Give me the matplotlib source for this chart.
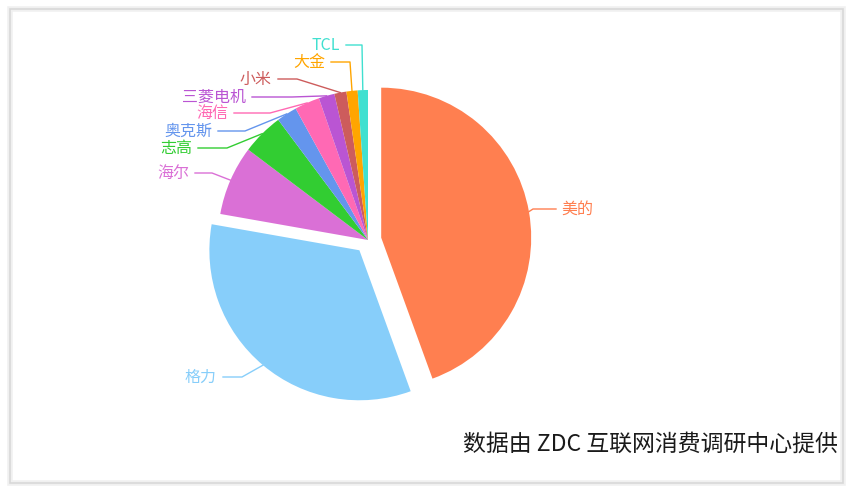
import matplotlib.pyplot as plt
from matplotlib.patches import Rectangle
import numpy as np

plt.rcParams['font.family'] = ['Noto Sans CJK SC', 'DejaVu Sans']

# data (market share, %)
brands = ["美的", "格力", "海尔", "志高", "奥克斯", "海信", "三菱电机", "小米", "大金", "TCL"]
shares = [44.4, 33.3, 7.5, 4.5, 2.2, 2.7, 1.7, 1.3, 1.2, 1.1]
colors = ["#ff7f50", "#87cefa", "#da70d6", "#32cd32", "#6495ed",
          "#ff69b4", "#ba55d3", "#cd5c5c", "#ffa500", "#40e0d0"]
selected = ["美的", "格力"]
source = "数据由 ZDC 互联网消费调研中心提供"

# label layout in pixels (text x, text y, elbow x), y from the top
label_layout = {
    "美的": (561, 209, 533),
    "格力": (217, 377, 242),
    "海尔": (189, 173, 212),
    "志高": (192, 148, 227),
    "奥克斯": (212, 131, 245),
    "海信": (228, 113, 270),
    "三菱电机": (246, 97, 292),
    "小米": (272, 79, 297),
    "大金": (325, 62, 350),
    "TCL": (340, 45, 362),
}

W, H = 853, 492
fig = plt.figure(figsize=(W / 100, H / 100), dpi=100)
ax = fig.add_axes([0, 0, 1, 1])

cx, cy = 368, H - 240
R = 150
explode = [13.4 if b in selected else 0 for b in brands]
wedges, _ = ax.pie(shares, colors=colors, startangle=90, counterclock=False,
                   radius=R, center=(cx, cy), explode=explode,
                   wedgeprops=dict(linewidth=0))

for w, name, col in zip(wedges, brands, colors):
    mid = np.deg2rad((w.theta1 + w.theta2) / 2)
    ax_, ay_ = w.center[0] + R * np.cos(mid), w.center[1] + R * np.sin(mid)
    tx, ty, ex = label_layout[name]
    ty = H - ty
    if tx > cx:
        xs = [ax_, ex, tx - 5]
        ha = "left"
    else:
        xs = [ax_, ex, tx + 6]
        ha = "right"
    ax.plot(xs, [ay_, ty, ty], color=col, lw=1)
    ax.text(tx, ty, name, ha=ha, va="center", fontsize=11.5, color=col)

ax.text(838, H - 444, source, ha="right", va="center", fontsize=16.5, color="#1a1a1a")

# frame around the picture
ax.add_patch(Rectangle((10, 9), 833, 474, fill=False, edgecolor="#f0f0f0", lw=4))
ax.add_patch(Rectangle((10, 9), 833, 474, fill=False, edgecolor="#d8d8d8", lw=1.2))

ax.set_xlim(0, W)
ax.set_ylim(0, H)
ax.axis("off")

fig.savefig("out.png", dpi=100)
